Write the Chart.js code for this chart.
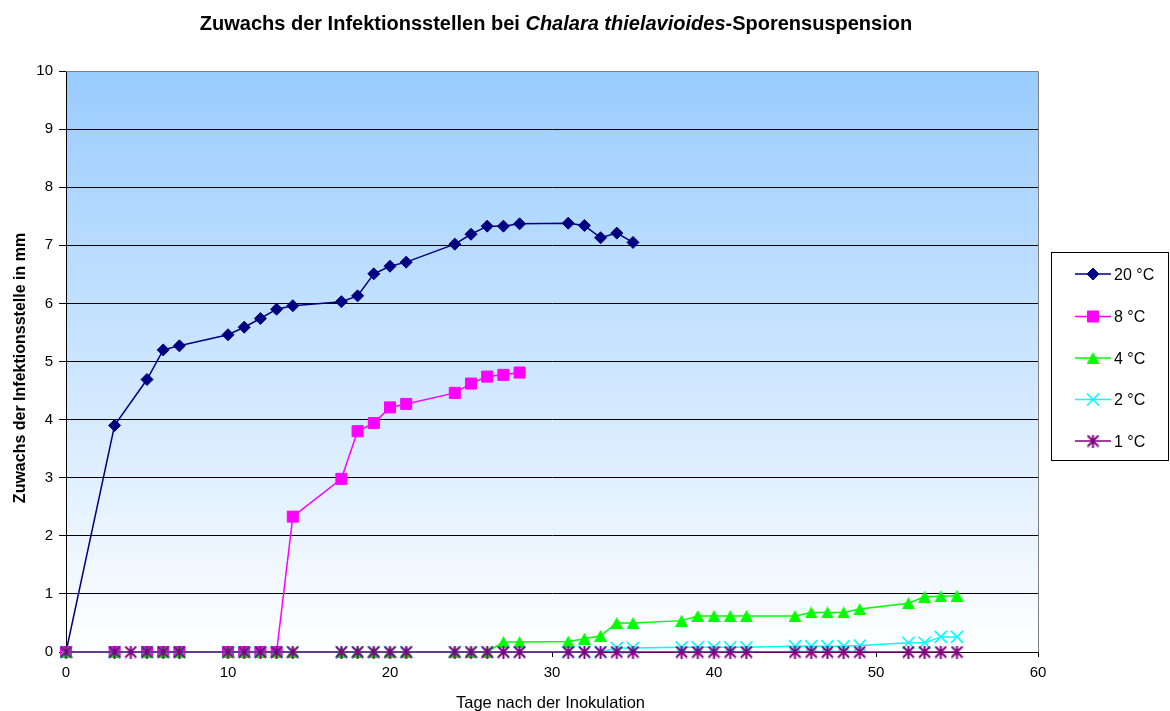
<!DOCTYPE html>
<html><head><meta charset="utf-8">
<script src="https://cdn.jsdelivr.net/npm/chart.js@4.4.1/dist/chart.umd.min.js"></script>
<style>html,body{margin:0;padding:0;background:#fff;}canvas{display:block;}</style>
</head><body>
<canvas id="c" width="1170" height="711"></canvas>
<script>
// ---- data ----
const titleParts = ['Zuwachs der Infektionsstellen bei ', 'Chalara thielavioides', '-Sporensuspension'];
const xTitle = 'Tage nach der Inokulation';
const yTitle = 'Zuwachs der Infektionsstelle in mm';
const seriesLabels = ['20 °C', '8 °C', '4 °C', '2 °C', '1 °C'];
const xTicks = [0, 10, 20, 30, 40, 50, 60];
const yTicks = [0, 1, 2, 3, 4, 5, 6, 7, 8, 9, 10];

const days20 = [0, 3, 5, 6, 7, 10, 11, 12, 13, 14, 17, 18, 19, 20, 21, 24, 25, 26, 27, 28, 31, 32, 33, 34, 35];
const vals20 = [0, 3.90, 4.69, 5.20, 5.27, 5.46, 5.59, 5.74, 5.90, 5.96, 6.03, 6.13, 6.51, 6.64, 6.71, 7.02, 7.19, 7.33, 7.33, 7.37, 7.38, 7.34, 7.13, 7.21, 7.05];

const days8 = [0, 3, 5, 6, 7, 10, 11, 12, 13, 14, 17, 18, 19, 20, 21, 24, 25, 26, 27, 28];
const vals8 = [0, 0, 0, 0, 0, 0, 0, 0, 0, 2.33, 2.98, 3.80, 3.94, 4.21, 4.27, 4.46, 4.62, 4.74, 4.77, 4.81];

const days4 = [0, 3, 5, 6, 7, 10, 11, 12, 13, 14, 17, 18, 19, 20, 21, 24, 25, 26, 27, 28, 31, 32, 33, 34, 35, 38, 39, 40, 41, 42, 45, 46, 47, 48, 49, 52, 53, 54, 55];
const vals4 = [0, 0, 0, 0, 0, 0, 0, 0, 0, 0, 0, 0, 0, 0, 0, 0, 0, 0, 0.17, 0.17, 0.18, 0.23, 0.28, 0.50, 0.50, 0.54, 0.62, 0.62, 0.62, 0.62, 0.62, 0.68, 0.68, 0.68, 0.74, 0.84, 0.95, 0.96, 0.97];

const days2 = [0, 3, 5, 6, 7, 10, 11, 12, 13, 14, 17, 18, 19, 20, 21, 24, 25, 26, 27, 28, 31, 32, 33, 34, 35, 38, 39, 40, 41, 42, 45, 46, 47, 48, 49, 52, 53, 54, 55];
const vals2 = [0, 0, 0, 0, 0, 0, 0, 0, 0, 0, 0, 0, 0, 0, 0, 0, 0, 0, 0, 0, 0, 0, 0, 0.07, 0.07, 0.08, 0.08, 0.08, 0.08, 0.08, 0.10, 0.10, 0.10, 0.10, 0.11, 0.16, 0.16, 0.26, 0.26];

const days1 = [0, 3, 4, 5, 6, 7, 10, 11, 12, 13, 14, 17, 18, 19, 20, 21, 24, 25, 26, 27, 28, 31, 32, 33, 34, 35, 38, 39, 40, 41, 42, 45, 46, 47, 48, 49, 52, 53, 54, 55];
const vals1 = [0, 0, 0, 0, 0, 0, 0, 0, 0, 0, 0, 0, 0, 0, 0, 0, 0, 0, 0, 0, 0, 0, 0, 0, 0, 0, 0, 0, 0, 0, 0, 0, 0, 0, 0, 0, 0, 0, 0, 0];

const colors = ['#000080', '#FF00FF', '#00FF00', '#00FFFF', '#800080'];

// ---- styling helpers ----
const FAM = '"Liberation Sans", Arial, Helvetica, sans-serif';
function pts(d, v) { return d.map((x, i) => ({ x: x, y: v[i] })); }

function makeTriangle(color, w, h) {
  const c = document.createElement('canvas');
  c.width = w; c.height = h;
  const g = c.getContext('2d');
  g.fillStyle = color;
  g.beginPath();
  g.moveTo(w / 2, 0); g.lineTo(w, h); g.lineTo(0, h); g.closePath();
  g.fill();
  return c;
}
function makeStar(color, s, lw) {
  const c = document.createElement('canvas');
  c.width = s; c.height = s;
  const g = c.getContext('2d');
  g.strokeStyle = color; g.lineWidth = lw; g.lineCap = 'butt';
  const m = 1, mid = s / 2;
  g.beginPath();
  g.moveTo(m, m); g.lineTo(s - m, s - m);
  g.moveTo(s - m, m); g.lineTo(m, s - m);
  g.moveTo(mid, 0); g.lineTo(mid, s);
  g.stroke();
  return c;
}
const triImg = makeTriangle(colors[2], 13, 12);
const starImg = makeStar(colors[4], 13, 2);

const dsStyle = [
  { pointStyle: 'rectRot', pointRadius: 6, pointBorderWidth: 1 },
  { pointStyle: 'rect', pointRadius: 7.8, pointBorderWidth: 1 },
  { pointStyle: triImg, pointRadius: 6, pointBorderWidth: 0 },
  { pointStyle: 'crossRot', pointRadius: 8.5, pointBorderWidth: 1.6 },
  { pointStyle: starImg, pointRadius: 6, pointBorderWidth: 0 }
];
const allDays = [days20, days8, days4, days2, days1];
const allVals = [vals20, vals8, vals4, vals2, vals1];

const datasets = seriesLabels.map((lab, i) => Object.assign({
  label: lab,
  data: pts(allDays[i], allVals[i]),
  borderColor: colors[i],
  backgroundColor: colors[i],
  pointBackgroundColor: colors[i],
  pointBorderColor: colors[i],
  borderWidth: 1.5,
  tension: 0,
  fill: false,
  clip: false,
  order: 5 - i
}, dsStyle[i]));

const decor = {
  id: 'decor',
  beforeDraw(chart) {
    const { ctx, chartArea: a } = chart;
    ctx.save();
    ctx.fillStyle = '#fff';
    ctx.fillRect(0, 0, chart.width, chart.height);
    const g = ctx.createLinearGradient(0, a.top, 0, a.bottom);
    g.addColorStop(0, '#99CCFF');
    g.addColorStop(1, '#FFFFFF');
    ctx.fillStyle = g;
    ctx.fillRect(a.left, a.top, a.right - a.left, a.bottom - a.top);
    ctx.restore();
  },
  beforeDatasetsDraw(chart) {
    const { ctx, chartArea: a } = chart;
    ctx.save();
    ctx.strokeStyle = '#808080';
    ctx.lineWidth = 1;
    ctx.beginPath();
    ctx.moveTo(a.left, a.top + 0.5); ctx.lineTo(a.right + 0.5, a.top + 0.5);
    ctx.lineTo(a.right + 0.5, a.bottom);
    ctx.stroke();
    ctx.restore();
  },
  afterDraw(chart) {
    const { ctx } = chart;
    ctx.save();
    // title
    const fonts = ['bold 20px ' + FAM, 'italic bold 20px ' + FAM, 'bold 20px ' + FAM];
    let widths = titleParts.map((t, i) => { ctx.font = fonts[i]; return ctx.measureText(t).width; });
    const total = widths.reduce((s, w) => s + w, 0);
    let x = 556 - total / 2;
    ctx.fillStyle = '#000';
    ctx.textBaseline = 'alphabetic';
    ctx.textAlign = 'left';
    titleParts.forEach((t, i) => { ctx.font = fonts[i]; ctx.fillText(t, x, 29.5); x += widths[i]; });
    // x title
    ctx.font = '16.5px ' + FAM;
    ctx.textAlign = 'center';
    ctx.fillText(xTitle, 550.5, 707.5);
    // y title
    ctx.save();
    ctx.translate(24.5, 368);
    ctx.rotate(-Math.PI / 2);
    ctx.font = 'bold 16px ' + FAM;
    ctx.fillText(yTitle, 0, 0);
    ctx.restore();
    // legend
    ctx.fillStyle = '#fff';
    ctx.fillRect(1051.5, 252.5, 117, 208);
    ctx.strokeStyle = '#000';
    ctx.lineWidth = 1;
    ctx.strokeRect(1051.5, 252.5, 117, 208);
    const rows = [274, 316.5, 358, 399.5, 441];
    chart.data.datasets.forEach((ds, i) => {
      const y = rows[i];
      ctx.strokeStyle = ds.borderColor;
      ctx.lineWidth = ds.borderWidth;
      ctx.beginPath(); ctx.moveTo(1075, y); ctx.lineTo(1111, y); ctx.stroke();
      const ps = ds.pointStyle;
      if (ps instanceof HTMLCanvasElement) {
        ctx.drawImage(ps, 1093 - ps.width / 2, y - ps.height / 2);
      } else if (Chart.helpers && Chart.helpers.drawPoint) {
        ctx.fillStyle = ds.pointBackgroundColor;
        ctx.strokeStyle = ds.pointBorderColor;
        ctx.lineWidth = ds.pointBorderWidth;
        Chart.helpers.drawPoint(ctx, { pointStyle: ps, radius: ds.pointRadius, borderWidth: ds.pointBorderWidth, rotation: 0 }, 1093, y);
      }
      ctx.fillStyle = '#000';
      ctx.font = '16px ' + FAM;
      ctx.textAlign = 'left';
      ctx.textBaseline = 'alphabetic';
      ctx.fillText(ds.label, 1114, y + 5.7);
    });
    ctx.restore();
  }
};

new Chart(document.getElementById('c'), {
  type: 'line',
  data: { datasets: datasets },
  options: {
    responsive: false,
    animation: false,
    devicePixelRatio: 1,
    layout: { padding: { top: 71, right: 132, bottom: 0, left: 0 } },
    plugins: { legend: { display: false }, title: { display: false }, tooltip: { enabled: false } },
    scales: {
      x: {
        type: 'linear', min: 0, max: 60,
        afterBuildTicks(s) { s.ticks = xTicks.map(v => ({ value: v })); },
        afterFit(s) { s.height = 59; },
        ticks: { color: '#000', font: { size: 15, family: FAM }, padding: 7, maxRotation: 0, autoSkip: false },
        grid: { drawOnChartArea: false, drawTicks: true, tickLength: 5, color: '#000', lineWidth: 1 },
        border: { color: '#000', width: 1 }
      },
      y: {
        type: 'linear', min: 0, max: 10,
        afterBuildTicks(s) { s.ticks = yTicks.map(v => ({ value: v })); },
        afterFit(s) { s.width = 66; },
        ticks: { color: '#000', font: { size: 15, family: FAM }, padding: 6, autoSkip: false },
        grid: { color: '#000', lineWidth: 1, drawTicks: true, tickLength: 7 },
        border: { color: '#000', width: 1 }
      }
    }
  },
  plugins: [decor]
});
</script>
</body></html>
